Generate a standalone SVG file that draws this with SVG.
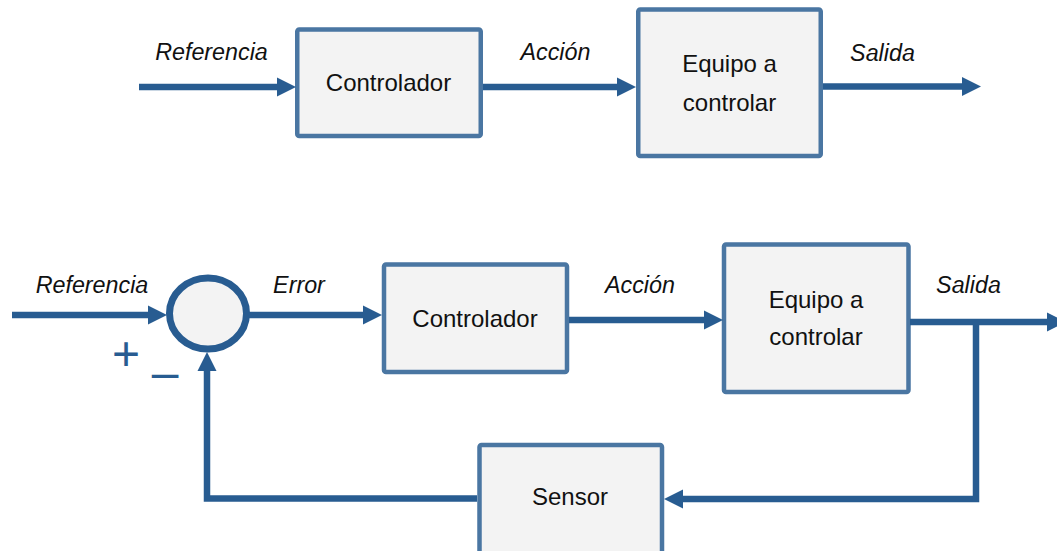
<svg xmlns="http://www.w3.org/2000/svg" width="1057" height="551" viewBox="0 0 1057 551">
  <style>
    .box { fill: #f3f3f3; stroke: #4a76a2; stroke-width: 4.5; }
    .sum { fill: #f3f3f3; stroke: #285c91; stroke-width: 7; }
    .wire { fill: none; stroke: #285c91; stroke-width: 6.5; stroke-linejoin: miter; marker-end: url(#head); }
    .plain { fill: none; stroke: #285c91; stroke-width: 6.5; stroke-linejoin: miter; }
    .lbl { font-family: "Liberation Sans", Arial, sans-serif; font-size: 24px; fill: #111; text-anchor: middle; }
    .sig { font-family: "Liberation Sans", Arial, sans-serif; font-size: 23.3px; font-style: italic; fill: #111; text-anchor: middle; }
    .sign { font-family: "Liberation Sans", Arial, sans-serif; font-size: 48px; fill: #285c91; text-anchor: middle; }
  </style>
  <defs>
    <marker id="head" markerUnits="userSpaceOnUse" markerWidth="19" markerHeight="19" refX="0" refY="9.5" orient="auto" overflow="visible">
      <path d="M0,0 L19,9.5 L0,19 z" fill="#285c91"/>
    </marker>
  </defs>

  <rect width="1057" height="551" fill="#ffffff"/>

  <!-- open loop -->
  <g id="ol-controlador">
    <rect class="box" x="297.25" y="29.5" width="183.5" height="106.5" rx="2"/>
    <text class="lbl" x="388.5" y="91">Controlador</text>
  </g>
  <g id="ol-planta">
    <rect class="box" x="638.25" y="9.5" width="182.5" height="146.5" rx="2"/>
    <text class="lbl" x="729.5" y="72">Equipo a</text>
    <text class="lbl" x="729.5" y="110.5">controlar</text>
  </g>

  <!-- closed loop -->
  <g id="cl-suma">
    <ellipse class="sum" cx="208" cy="313.5" rx="38.5" ry="35.5"/>
    <text class="sign" x="126" y="369.5">+</text>
    <text class="sign" x="165" y="389">–</text>
  </g>
  <g id="cl-controlador">
    <rect class="box" x="384" y="264.5" width="183" height="107.5" rx="2"/>
    <text class="lbl" x="475" y="327">Controlador</text>
  </g>
  <g id="cl-planta">
    <rect class="box" x="724" y="244.5" width="184.5" height="147.5" rx="2"/>
    <text class="lbl" x="816" y="308">Equipo a</text>
    <text class="lbl" x="816" y="344.5">controlar</text>
  </g>
  <g id="cl-sensor">
    <rect class="box" x="479.5" y="445" width="182.5" height="110" rx="2"/>
    <text class="lbl" x="570" y="505">Sensor</text>
  </g>

  <g id="connectors">
    <!-- open loop -->
    <line class="wire" x1="139" y1="87" x2="277" y2="87"/>
    <line class="wire" x1="483" y1="87" x2="617" y2="87"/>
    <line class="wire" x1="823" y1="86.5" x2="962" y2="86.5"/>
    <!-- closed loop -->
    <line class="wire" x1="12" y1="315" x2="148" y2="315"/>
    <line class="wire" x1="249" y1="315" x2="363" y2="315"/>
    <line class="wire" x1="569" y1="320" x2="704" y2="320"/>
    <line class="wire" x1="910" y1="322" x2="1047" y2="322"/>
    <polyline class="wire" points="976,322 976,499 683,499"/>
    <polyline class="wire" points="477,498.5 207,498.5 207,371"/>
  </g>

  <g id="labels">
    <text class="sig" x="211.5" y="60">Referencia</text>
    <text class="sig" x="555.5" y="60">Acción</text>
    <text class="sig" x="882.5" y="61">Salida</text>
    <text class="sig" x="92" y="293">Referencia</text>
    <text class="sig" x="299" y="293">Error</text>
    <text class="sig" x="640" y="293">Acción</text>
    <text class="sig" x="968.5" y="293">Salida</text>
  </g>
</svg>
